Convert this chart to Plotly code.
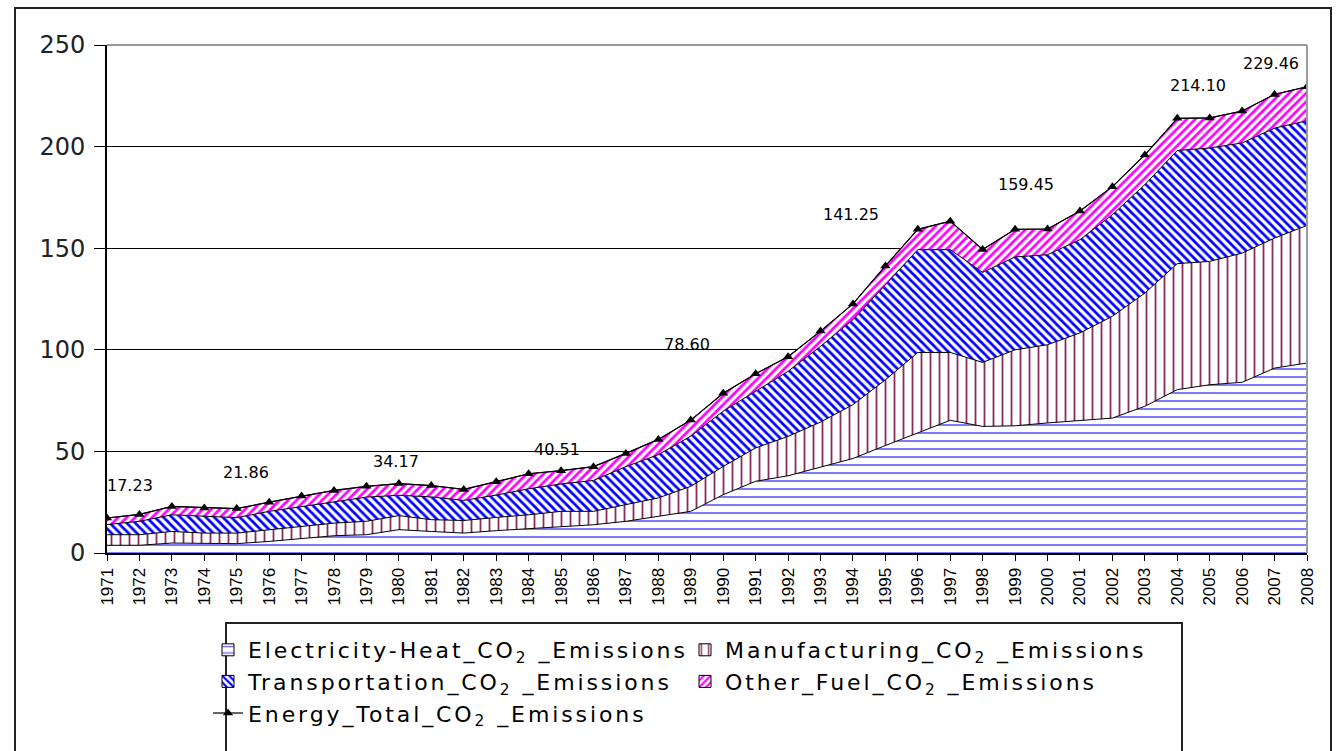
import plotly.graph_objects as go

# ---- data (Mt CO2) ----
years = list(range(1971, 2009))

electricity_heat = [3.8, 3.8, 4.9, 4.6, 4.6, 5.7, 7.0, 8.5, 9.0, 11.5,
                    10.6, 9.8, 11.0, 12.0, 13.1, 13.9, 15.6, 18.0, 20.5, 28.7,
                    35.3, 38.0, 42.2, 46.5, 52.9, 59.0, 65.3, 62.3, 62.6, 64.0,
                    65.1, 66.4, 72.2, 80.4, 82.8, 84.0, 91.0, 93.5]

manufacturing = [5.2, 5.2, 5.7, 5.2, 5.2, 5.8, 6.1, 6.2, 6.6, 6.9,
                 5.8, 6.2, 6.5, 6.8, 7.4, 6.6, 8.2, 9.1, 12.3, 13.9,
                 16.4, 19.4, 22.2, 26.5, 32.3, 39.7, 33.4, 31.5, 37.4, 38.5,
                 43.2, 50.1, 55.7, 62.0, 60.7, 63.6, 64.0, 67.7]

transportation = [5.0, 6.6, 8.2, 8.2, 7.6, 9.0, 9.8, 10.7, 11.9, 10.0,
                  11.2, 9.9, 11.0, 12.8, 13.5, 15.2, 18.7, 21.3, 24.7, 27.2,
                  27.8, 32.0, 37.3, 41.8, 46.8, 50.6, 50.6, 44.3, 45.7, 44.3,
                  45.9, 50.0, 53.4, 55.7, 55.8, 54.2, 54.1, 51.5]

other_fuel = [3.23, 3.4, 4.1, 4.2, 4.46, 4.5, 5.1, 5.4, 5.3, 5.77,
              5.6, 5.4, 6.6, 7.4, 6.51, 6.8, 6.5, 7.5, 7.9, 8.8,
              8.7, 7.2, 7.5, 7.8, 9.25, 10.0, 14.0, 11.3, 13.6, 12.65,
              14.1, 13.8, 14.6, 15.8, 14.8, 15.7, 16.6, 16.76]

energy_total = [17.23, 19.0, 22.9, 22.2, 21.86, 25.0, 28.0, 30.8, 32.8, 34.17,
                33.2, 31.3, 35.1, 39.0, 40.51, 42.5, 49.0, 55.9, 65.4, 78.60,
                88.2, 96.6, 109.2, 122.6, 141.25, 159.3, 163.3, 149.4, 159.3, 159.45,
                168.3, 180.3, 195.9, 213.9, 214.10, 217.5, 225.7, 229.46]

labelled_years = [1971, 1975, 1980, 1985, 1990, 1995, 2000, 2005, 2008]

y_ticks = [0, 50, 100, 150, 200, 250]

# ---- layout geometry (pixels) ----
W, H = 1337, 751
PL, PR, PT, PB = 107, 1307, 45, 553          # plot area edges
plot_w, plot_h = PR - PL, PB - PT


def px_to_paper(x, y):
    return (x - PL) / plot_w, (PB - y) / plot_h


# label offsets (dx, dy) in px relative to the marked point
label_offsets = [(23, 32), (9, 36), (-3, 22), (-4, 21), (-36, 49),
                 (-34, 51), (-22, 45), (-12, 32), (-36, 23)]

SANS = "DejaVu Sans, Verdana, sans-serif"
NARROW = "Liberation Sans, Arial, sans-serif"


def spaced(text):
    # widen the legend lettering a little
    return f'<span style="letter-spacing:2.9px">{text}</span>'


series = [
    ("Electricity-Heat_CO<sub>2</sub> _Emissions", electricity_heat,
     dict(shape="-", fgcolor="#6a6aff", bgcolor="white", size=8, solidity=0.22,
          fgopacity=1)),
    ("Manufacturing_CO<sub>2</sub> _Emissions", manufacturing,
     dict(shape="|", fgcolor="#8a2a5c", bgcolor="white", size=9, solidity=0.2,
          fgopacity=1)),
    ("Transportation_CO<sub>2</sub> _Emissions", transportation,
     dict(shape="\\", fgcolor="#0000ff", bgcolor="white", size=6, solidity=0.46,
          fgopacity=1)),
    ("Other_Fuel_CO<sub>2</sub> _Emissions", other_fuel,
     dict(shape="/", fgcolor="#ff00ff", bgcolor="white", size=6, solidity=0.46,
          fgopacity=1)),
]

fig = go.Figure()

# stacked areas
for name, vals, pat in series:
    fig.add_trace(go.Scatter(
        x=years, y=vals, name=name, mode="lines",
        stackgroup="emissions",
        line=dict(color="black", width=1),
        fillcolor="white",
        fillpattern=pat,
        showlegend=False,
        hoverinfo="skip",
    ))

# legend swatches (boxes with the same patterns)
for name, _, pat in series:
    fig.add_trace(go.Bar(
        x=[None], y=[None], name=spaced(name),
        marker=dict(color="white", pattern=pat,
                    line=dict(color="black", width=1)),
        hoverinfo="skip",
    ))

# total line with triangle markers
fig.add_trace(go.Scatter(
    x=years, y=energy_total, name=spaced("Energy_Total_CO<sub>2</sub> _Emissions"),
    mode="lines+markers",
    line=dict(color="black", width=1.2),
    marker=dict(symbol="triangle-up", size=9, color="black"),
    hoverinfo="skip",
))

# value labels on the total line
for yr, (dx, dy) in zip(labelled_years, label_offsets):
    v = energy_total[years.index(yr)]
    fig.add_annotation(
        x=yr, y=v, xref="x", yref="y", text=f"{v:.2f}",
        showarrow=False, xshift=dx, yshift=dy,
        font=dict(family=SANS, size=16, color="black"),
    )

shapes = []
# plot area border (grey, top and right)
shapes.append(dict(type="line", xref="paper", yref="paper", x0=0, x1=1, y0=1, y1=1,
                   line=dict(color="#9a9a9a", width=2), layer="above"))
shapes.append(dict(type="line", xref="paper", yref="paper", x0=1, x1=1, y0=0, y1=1,
                   line=dict(color="#9a9a9a", width=2), layer="above"))
# outer chart frame
x0, y0 = px_to_paper(15, 8)
x1, y1 = px_to_paper(1331, 770)
shapes.append(dict(type="rect", xref="paper", yref="paper", x0=x0, x1=x1, y0=y1, y1=y0,
                   line=dict(color="#222222", width=2), layer="below"))
# legend frame
lx0, ly0 = px_to_paper(226, 623)
lx1, ly1 = px_to_paper(1182, 770)
shapes.append(dict(type="rect", xref="paper", yref="paper", x0=lx0, x1=lx1, y0=ly1, y1=ly0,
                   line=dict(color="#222222", width=2), layer="below"))

leg_x, leg_y = px_to_paper(208, 629)

fig.update_layout(
    width=W, height=H,
    margin=dict(l=PL, r=W - PR, t=PT, b=H - PB, pad=0, autoexpand=False),
    paper_bgcolor="white", plot_bgcolor="white",
    font=dict(family=SANS, color="black"),
    showlegend=True,
    legend=dict(
        orientation="h", x=leg_x, y=leg_y, xanchor="left", yanchor="top",
        entrywidth=432, entrywidthmode="pixels", traceorder="normal",
        font=dict(family=SANS, size=22, color="black"),
        bgcolor="rgba(0,0,0,0)", borderwidth=0, itemwidth=30,
    ),
    xaxis=dict(
        range=[years[0], years[-1]], tickmode="array", tickvals=years,
        ticktext=[str(y) for y in years], tickangle=-90,
        tickfont=dict(family=NARROW, size=17, color="black"),
        showgrid=False, zeroline=False,
        showline=True, linecolor="black", linewidth=2,
        ticks="outside", ticklen=6, tickwidth=1, tickcolor="black",
        fixedrange=True, automargin=False,
    ),
    yaxis=dict(
        range=[0, 250], tickmode="array", tickvals=y_ticks,
        tickfont=dict(family=SANS, size=24, color="#222222"),
        showgrid=True, gridcolor="black", gridwidth=1,
        zeroline=False, showline=True, linecolor="black", linewidth=2,
        ticks="outside", ticklen=11, tickwidth=1, tickcolor="black",
        ticklabelstandoff=4, fixedrange=True, automargin=False,
    ),
    shapes=shapes,
    hovermode=False,
)

fig.write_html("out.html")
